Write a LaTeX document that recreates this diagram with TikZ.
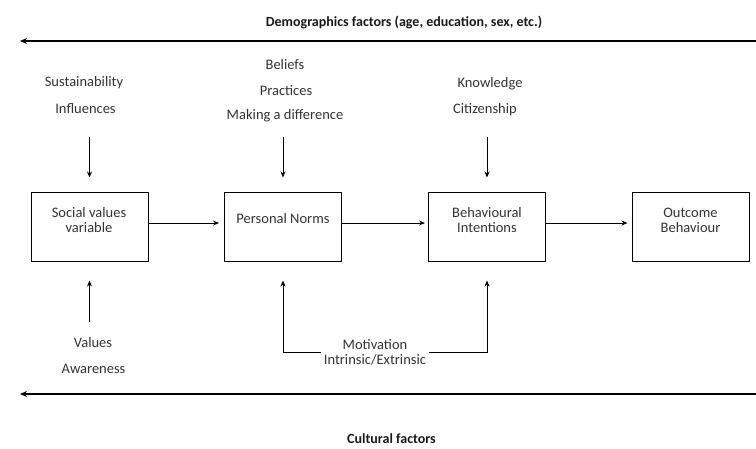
\documentclass[tikz,border=0pt]{standalone}
\usepackage{fontspec}
\setmainfont{Carlito}
\usetikzlibrary{arrows.meta}
\tikzset{
  factorbox/.style={draw, line width=1pt, minimum width=117pt, minimum height=69pt, inner sep=0pt},
  boxtext/.style={align=center, text=black!80, font=\fontsize{14.5}{15}\selectfont, inner sep=0pt},
  cue/.style={text=black!80, font=\fontsize{14.5}{15}\selectfont, inner sep=0pt},
  heading/.style={text=black!90, font=\bfseries\fontsize{14}{15}\selectfont},
  link/.style={-{Stealth[length=6pt,width=5pt]}, line width=1pt},
  band/.style={-{Stealth[length=7pt,width=6pt]}, line width=1.6pt}
}
\begin{document}
\begin{tikzpicture}[x=1pt, y=-1pt]
  \useasboundingbox (0,0) rectangle (756,448);
  % outer factors
  \node[heading] (demo) at (404,22) {Demographics factors (age, education, sex, etc.)};
  \coordinate (demoR) at (756,41);
  \coordinate (demoL) at (20,41);
  \draw[band] (demoR) -- (demoL);
  \node[heading] (culture) at (391.5,439) {Cultural factors};
  \coordinate (cultR) at (756,394);
  \coordinate (cultL) at (20,394);
  \draw[band] (cultR) -- (cultL);
  % main chain
  \node[factorbox] (social) at (89.5,226.5) {};
  \node[factorbox] (norms) at (283,226.5) {};
  \node[factorbox] (intent) at (487,226.5) {};
  \node[factorbox] (outcome) at (690.5,226.5) {};
  \node[boxtext] (socialtxt) at (89,220.5) {Social values\\variable};
  \node[boxtext] (normstxt) at (283,219) {Personal Norms};
  \node[boxtext] (intenttxt) at (487,220.5) {Behavioural\\Intentions};
  \node[boxtext] (outcometxt) at (690.5,220.5) {Outcome\\Behaviour};
  \draw[link] ([yshift=3.5pt]social.east) -- ([yshift=3.5pt,xshift=-5pt]norms.west);
  \draw[link] ([yshift=3.5pt]norms.east) -- ([yshift=3.5pt,xshift=-3pt]intent.west);
  \draw[link] ([yshift=3.5pt]intent.east) -- ([yshift=3.5pt,xshift=-4pt]outcome.west);
  % inputs from above
  \node[cue] (sust) at (84,83) {Sustainability};
  \node[cue] (influ) at (85.5,109) {Influences};
  \node[cue] (belief) at (285,65) {Beliefs};
  \node[cue] (pract) at (286,90.5) {Practices};
  \node[cue] (diff) at (285,116) {Making a difference};
  \node[cue] (know) at (490,84) {Knowledge};
  \node[cue] (citiz) at (485,110) {Citizenship};
  \coordinate (socialin) at (89.5,137);
  \coordinate (normsin) at (283,137);
  \coordinate (intentin) at (487,137);
  \draw[link] (socialin) -- ([yshift=14pt]social.north);
  \draw[link] (normsin) -- ([yshift=14pt]norms.north);
  \draw[link] (intentin) -- ([yshift=14pt]intent.north);
  % inputs from below
  \node[cue] (val) at (93,343) {Values};
  \node[cue] (aware) at (93.5,369) {Awareness};
  \coordinate (valtop) at (89.5,322);
  \draw[link] (valtop) -- ([yshift=-19pt]social.south);
  \node[cue, align=center, inner xsep=3pt] (motiv) at (375,352) {Motivation\\Intrinsic/Extrinsic};
  \draw[link] (motiv.west) -| ([yshift=-19pt]norms.south);
  \draw[link] (motiv.east) -| ([yshift=-19pt]intent.south);
\end{tikzpicture}
\end{document}
